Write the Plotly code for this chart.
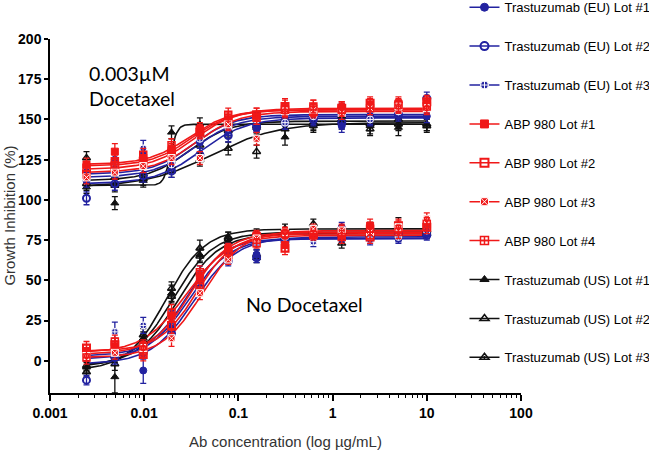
import plotly.graph_objects as go
import numpy as np

# concentrations (ug/mL), ascending
conc = [0.00244, 0.00488, 0.00977, 0.0195, 0.039, 0.078, 0.156, 0.3125, 0.625, 1.25, 2.5, 5.0, 10.0]

series_names = ["Trastuzumab (EU) Lot #1", "Trastuzumab (EU) Lot #2", "Trastuzumab (EU) Lot #3",
                "ABP 980 Lot #1", "ABP 980 Lot #2", "ABP 980 Lot #3", "ABP 980 Lot #4",
                "Trastuzumab (US) Lot #1", "Trastuzumab (US) Lot #2", "Trastuzumab (US) Lot #3"]

# ---- No Docetaxel: mean values per series ----
nodoc_eu1 = [3, 6, -6, 20, 50, 68, 66, 75, 76, 83, 77, 76, 79]
nodoc_eu2 = [-12, 2, 5, 17, 45, 62, 64, 74, 78, 77, 76, 79, 78]
nodoc_eu3 = [5, 18, 22, 27, 55, 70, 72, 77, 74, 78, 75, 77, 81]
nodoc_abp1 = [6, 9, 7, 28, 52, 70, 78, 72, 80, 79, 84, 82, 86]
nodoc_abp2 = [8, 10, 4, 22, 47, 66, 77, 70, 79, 80, 77, 84, 83]
nodoc_abp3 = [3, 5, 8, 14, 42, 63, 76, 80, 82, 81, 80, 83, 88]
nodoc_abp4 = [2, 12, 9, 30, 55, 68, 73, 79, 78, 77, 82, 80, 85]
nodoc_us1 = [-4, -10, 14, 42, 66, 74, 64, 77, 81, 78, 79, 80, 80]
nodoc_us2 = [-7, -2, 16, 45, 70, 76, 79, 82, 85, 80, 82, 84, 81]
nodoc_us3 = [-3, 3, 12, 40, 65, 77, 66, 76, 80, 73, 78, 78, 79]

nodoc_err_eu1 = [3, 4, 8, 4, 4, 3, 3, 3, 3, 3, 3, 3, 3]
nodoc_err_eu2 = [3, 4, 4, 4, 4, 3, 3, 3, 3, 3, 3, 3, 3]
nodoc_err_eu3 = [3, 6, 5, 4, 4, 3, 3, 3, 3, 3, 3, 3, 3]
nodoc_err_abp1 = [4, 5, 4, 4, 4, 3, 3, 4, 3, 4, 4, 4, 4]
nodoc_err_abp2 = [4, 4, 4, 5, 4, 3, 3, 4, 3, 4, 4, 4, 4]
nodoc_err_abp3 = [3, 4, 4, 5, 4, 3, 3, 3, 3, 4, 4, 4, 4]
nodoc_err_abp4 = [4, 4, 4, 5, 4, 3, 3, 3, 3, 4, 4, 4, 4]
nodoc_err_us1 = [3, 10, 4, 5, 4, 3, 3, 3, 3, 3, 3, 3, 3]
nodoc_err_us2 = [3, 4, 4, 4, 5, 4, 3, 3, 3, 3, 4, 5, 3]
nodoc_err_us3 = [3, 4, 4, 4, 4, 3, 3, 3, 3, 3, 3, 3, 3]

# ---- 0.003 uM Docetaxel ----
doc_eu1 = [112, 125, 128, 123, 136, 144, 144, 150, 151, 146, 152, 154, 152]
doc_eu2 = [101, 110, 115, 118, 128, 140, 146, 148, 150, 148, 151, 153, 163]
doc_eu3 = [118, 120, 132, 122, 138, 145, 150, 148, 152, 156, 150, 155, 158]
doc_abp1 = [122, 130, 126, 131, 144, 150, 152, 157, 157, 157, 159, 160, 160]
doc_abp2 = [116, 121, 124, 129, 142, 148, 153, 158, 155, 157, 160, 158, 161]
doc_abp3 = [114, 117, 121, 126, 126, 147, 138, 155, 156, 154, 157, 158, 157]
doc_abp4 = [120, 124, 128, 134, 143, 153, 151, 156, 158, 156, 157, 159, 158]
doc_us1 = [108, 98, 112, 142, 147, 147, 145, 139, 146, 152, 146, 145, 147]
doc_us2 = [110, 109, 113, 118, 125, 132, 130, 144, 147, 148, 147, 150, 147]
doc_us3 = [126, 114, 116, 121, 134, 143, 146, 150, 148, 150, 144, 147, 146]

doc_err_eu1 = [4, 4, 4, 4, 4, 4, 4, 4, 4, 4, 4, 4, 4]
doc_err_eu2 = [4, 4, 4, 4, 4, 4, 4, 4, 4, 4, 4, 4, 4]
doc_err_eu3 = [4, 4, 5, 4, 4, 4, 4, 4, 4, 4, 4, 4, 4]
doc_err_abp1 = [4, 5, 4, 4, 4, 4, 5, 5, 5, 4, 4, 4, 4]
doc_err_abp2 = [4, 5, 4, 4, 4, 4, 4, 5, 4, 4, 4, 4, 4]
doc_err_abp3 = [4, 4, 4, 4, 4, 4, 4, 4, 4, 4, 4, 4, 4]
doc_err_abp4 = [4, 4, 4, 4, 4, 4, 4, 4, 4, 4, 4, 4, 4]
doc_err_us1 = [4, 4, 4, 4, 4, 4, 4, 5, 4, 4, 5, 5, 4]
doc_err_us2 = [4, 4, 4, 4, 4, 4, 4, 5, 4, 4, 4, 4, 4]
doc_err_us3 = [4, 4, 4, 4, 4, 4, 4, 4, 4, 4, 4, 4, 4]

# ---- fitted 4PL parameters: bottom, top, EC50, hill ----
nodoc_bottom = [1, -2, 3, 4, 6, 2, 5, -4, -6, -3]
nodoc_top = [76, 77, 76, 80, 79, 81, 78, 80, 82, 79]
nodoc_ec50 = [0.030, 0.034, 0.028, 0.031, 0.036, 0.041, 0.028, 0.020, 0.017, 0.023]
nodoc_hill = [2.0, 1.9, 2.2, 2.1, 2.2, 2.0, 1.9, 2.0, 2.1, 2.0]

doc_bottom = [114, 110, 116, 121, 119, 117, 122, 109, 108, 112]
doc_top = [152, 151, 153, 156, 157, 155, 156, 147, 148, 149]
doc_ec50 = [0.035, 0.040, 0.033, 0.032, 0.034, 0.036, 0.030, 0.019, 0.052, 0.030]
doc_hill = [1.9, 1.8, 2.0, 2.0, 1.9, 1.9, 2.0, 12.0, 1.25, 2.0]

nodoc_vals = [nodoc_eu1, nodoc_eu2, nodoc_eu3, nodoc_abp1, nodoc_abp2, nodoc_abp3, nodoc_abp4,
              nodoc_us1, nodoc_us2, nodoc_us3]
nodoc_errs = [nodoc_err_eu1, nodoc_err_eu2, nodoc_err_eu3, nodoc_err_abp1, nodoc_err_abp2,
              nodoc_err_abp3, nodoc_err_abp4, nodoc_err_us1, nodoc_err_us2, nodoc_err_us3]
doc_vals = [doc_eu1, doc_eu2, doc_eu3, doc_abp1, doc_abp2, doc_abp3, doc_abp4, doc_us1, doc_us2, doc_us3]
doc_errs = [doc_err_eu1, doc_err_eu2, doc_err_eu3, doc_err_abp1, doc_err_abp2, doc_err_abp3,
            doc_err_abp4, doc_err_us1, doc_err_us2, doc_err_us3]

BLUE = "#2222a0"
RED = "#f01818"
BLACK = "#111111"
colors = [BLUE] * 3 + [RED] * 4 + [BLACK] * 3
symbols = ["circle", "circle-open", "circle-cross",
           "square", "square-open", "square-x", "square-cross-open",
           "triangle-up", "triangle-up-open", "triangle-up-open-dot"]
marker_lines = ["#2222a0", "#2222a0", "white", RED, RED, "white", RED, BLACK, BLACK, BLACK]
marker_lw = [1, 2, 1, 1, 2, 1, 1.5, 1, 1.5, 1.5]


def fourpl(x, b, t, ec, h):
    return b + (t - b) / (1.0 + 10 ** ((np.log10(ec) - np.log10(x)) * h))


xfit = np.logspace(np.log10(conc[0]), np.log10(conc[-1]), 300)

fig = go.Figure()

# legend entries
for i, name in enumerate(series_names):
    fig.add_trace(go.Scatter(
        x=[None], y=[None], mode="lines+markers", name=name, legendgroup=str(i),
        line=dict(color=colors[i], width=1.5),
        marker=dict(symbol=symbols[i], size=8, color=colors[i],
                    line=dict(color=marker_lines[i], width=marker_lw[i])),
    ))

order = [7, 8, 9, 0, 1, 2, 3, 4, 5, 6]
for vals, errs, bots, tops, ecs, hills in [
    (nodoc_vals, nodoc_errs, nodoc_bottom, nodoc_top, nodoc_ec50, nodoc_hill),
    (doc_vals, doc_errs, doc_bottom, doc_top, doc_ec50, doc_hill),
]:
    for i in order:
        fig.add_trace(go.Scatter(
            x=xfit, y=fourpl(xfit, bots[i], tops[i], ecs[i], hills[i]), mode="lines",
            line=dict(color=colors[i], width=1.6), showlegend=False, hoverinfo="skip"))
    for i in order:
        fig.add_trace(go.Scatter(
            x=conc, y=vals[i], mode="markers", showlegend=False,
            marker=dict(symbol=symbols[i], size=7, color=colors[i],
                        line=dict(color=marker_lines[i], width=marker_lw[i])),
            error_y=dict(type="data", array=errs[i], color=colors[i], thickness=1.3, width=3)))

x_ticks = [0.001, 0.01, 0.1, 1, 10, 100]
x_ticktext = ["<b>0.001</b>", "<b>0.01</b>", "<b>0.1</b>", "<b>1</b>", "<b>10</b>", "<b>100</b>"]
y_ticks = [0, 25, 50, 75, 100, 125, 150, 175, 200]
y_ticktext = ["<b>%d</b>" % v for v in y_ticks]
minor_vals = [m * d for d in [0.001, 0.01, 0.1, 1, 10] for m in range(2, 10)]

fig.update_layout(
    width=649, height=455,
    margin=dict(l=50, r=128, t=39, b=62, autoexpand=False),
    paper_bgcolor="white", plot_bgcolor="white",
    font=dict(family="Liberation Sans, Arial, sans-serif", color="black"),
    showlegend=True,
    legend=dict(x=0.88, xanchor="left", y=1.132, yanchor="top",
                bgcolor="rgba(0,0,0,0)", font=dict(size=13, color="black"),
                tracegroupgap=19, itemwidth=30, maxheight=600),
    xaxis=dict(type="log", range=[-3, 2], tickvals=x_ticks, ticktext=x_ticktext,
               tickfont=dict(size=14), showgrid=False, zeroline=False,
               showline=True, linecolor="black", linewidth=1.5,
               ticks="outside", ticklen=6, tickwidth=1.5, tickcolor="black",
               minor=dict(tickvals=minor_vals, ticks="outside", ticklen=3, tickwidth=1, tickcolor="black", showgrid=False),
               title=dict(text="Ab concentration (log µg/mL)", font=dict(size=15, color="#333"), standoff=17)),
    yaxis=dict(range=[-20, 200], tickvals=y_ticks, ticktext=y_ticktext,
               tickfont=dict(size=14), showgrid=False, zeroline=False,
               showline=True, linecolor="black", linewidth=1.5,
               ticks="outside", ticklen=4, tickwidth=1.5, tickcolor="black"),
    annotations=[
        dict(text="Growth Inhibition (%)", x=-0.088, y=0.5, xref="paper", yref="paper",
             xanchor="center", yanchor="middle", textangle=-90, showarrow=False,
             font=dict(size=15, color="#333")),
        dict(text="0.003µM<br>Docetaxel", x=-2.61, y=187, xref="x", yref="y", xanchor="left", yanchor="top",
             showarrow=False, align="left", font=dict(family="Lato, sans-serif", size=19.5, color="black")),
        dict(text="No Docetaxel", x=-0.30, y=35, xref="x", yref="y", xanchor="center", yanchor="middle",
             showarrow=False, font=dict(family="Lato, sans-serif", size=19.5, color="black")),
    ],
)

fig.write_html("out.html", config={"displayModeBar": False},
               post_script="document.body.style.margin='0';document.body.style.overflow='hidden';")
